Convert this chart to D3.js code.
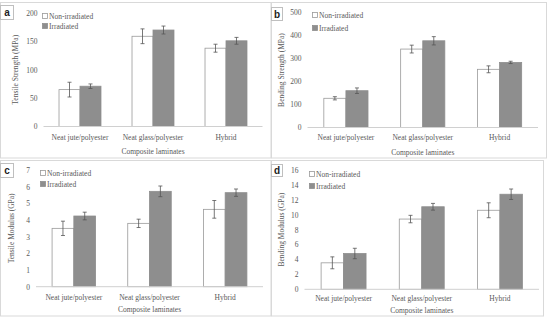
<!DOCTYPE html>
<html>
<head>
<meta charset="utf-8">
<script src="https://cdn.jsdelivr.net/npm/d3@7"></script>
<style>
  body { margin: 0; background: #fff; }
  svg text { font-family: "Liberation Serif", "Times New Roman", serif; fill: #595959; }
</style>
</head>
<body>
<div id="chart-area"></div>
<script>
// Shared categories and series
const categories = ["Neat jute/polyester", "Neat glass/polyester", "Hybrid"];
const seriesNames = ["Non-irradiated", "Irradiated"];

// Panel a - tensile strength (MPa)
const tsNonIrr = [65, 159, 138];
const tsNonIrrErr = [13, 13, 7];
const tsIrr = [71, 170, 151];
const tsIrrErr = [4, 7, 6];
const tsTicks = [0, 50, 100, 150, 200];

// Panel b - bending strength (MPa)
const bsNonIrr = [127, 341, 253];
const bsNonIrrErr = [7, 17, 15];
const bsIrr = [160, 377, 283];
const bsIrrErr = [12, 18, 5];
const bsTicks = [0, 100, 200, 300, 400, 500];

// Panel c - tensile modulus (GPa)
const tmNonIrr = [3.5, 3.8, 4.64];
const tmNonIrrErr = [0.43, 0.25, 0.53];
const tmIrr = [4.24, 5.72, 5.64];
const tmIrrErr = [0.23, 0.32, 0.22];
const tmTicks = [0, 1, 2, 3, 4, 5, 6, 7];

// Panel d - bending modulus (GPa)
const bmNonIrr = [3.55, 9.42, 10.6];
const bmNonIrrErr = [0.8, 0.5, 1.0];
const bmIrr = [4.8, 11.07, 12.75];
const bmIrrErr = [0.7, 0.45, 0.7];
const bmTicks = [0, 2, 4, 6, 8, 10, 12, 14, 16];

const width = 550;
const height = 323;
const fillColors = ["#ffffff", "#8e8e8e"];
const strokeColors = ["#9a9a9a", "#8e8e8e"];

const svg = d3.select("#chart-area")
    .append("svg")
    .attr("width", width)
    .attr("height", height);

// panel layouts (frame, plot area, label positions)
const panels = [
    { letter: "a", frame: [0.5, 2.5, 270.5, 155.5], box: [0.5, 5.5, 13, 14],
      x: [43.5, 262.5], y: [126.5, 13], max: 200, ticks: tsTicks,
      vals: [tsNonIrr, tsIrr], errs: [tsNonIrrErr, tsIrrErr],
      title: "Tensile Strength (MPa)", titleX: 15, catY: 137, xTitleY: 151,
      legX: 45, legY: [16, 26] },
    { letter: "b", frame: [271.5, 2.5, 275, 155.5], box: [271.5, 7.5, 11, 13],
      x: [307.5, 538], y: [127.5, 12.5], max: 500, ticks: bsTicks,
      vals: [bsNonIrr, bsIrr], errs: [bsNonIrrErr, bsIrrErr],
      title: "Bending Strength (MPa)", titleX: 281, catY: 137, xTitleY: 152,
      legX: 315, legY: [15, 28] },
    { letter: "c", frame: [0.5, 160.5, 270.5, 155.5], box: [0.5, 163.5, 13, 14],
      x: [36, 263], y: [286.7, 170], max: 7, ticks: tmTicks,
      vals: [tmNonIrr, tmIrr], errs: [tmNonIrrErr, tmIrrErr],
      title: "Tensile Modulus (GPa)", titleX: 11, catY: 297, xTitleY: 309,
      legX: 43, legY: [173, 184] },
    { letter: "d", frame: [271.5, 160.5, 272, 155.5], box: [271.5, 164.5, 11, 12],
      x: [304.5, 539], y: [289.3, 170], max: 16, ticks: bmTicks,
      vals: [bmNonIrr, bmIrr], errs: [bmNonIrrErr, bmIrrErr],
      title: "Bending Modulus (GPa)", titleX: 281, catY: 298, xTitleY: 310,
      legX: 312, legY: [174, 186] }
];

panels.forEach(drawPanel);

function drawPanel(p) {
    const g = svg.append("g");

    // outer frame
    g.append("rect")
        .attr("x", p.frame[0]).attr("y", p.frame[1])
        .attr("width", p.frame[2]).attr("height", p.frame[3])
        .attr("fill", "none").attr("stroke", "#d9d9d9");

    // letter box
    g.append("rect")
        .attr("x", p.box[0]).attr("y", p.box[1])
        .attr("width", p.box[2]).attr("height", p.box[3])
        .attr("fill", "#fff").attr("stroke", "#bfbfbf");
    g.append("text")
        .attr("x", p.box[0] + p.box[2] / 2)
        .attr("y", p.box[1] + p.box[3] / 2)
        .attr("dy", ".36em")
        .attr("text-anchor", "middle")
        .style("font-family", "'Liberation Sans', Arial, sans-serif")
        .style("font-size", "10px")
        .style("font-weight", "bold")
        .style("fill", "#222")
        .text(p.letter);

    const x0 = d3.scaleBand().domain(categories).range(p.x);
    const bw = x0.bandwidth();
    const gap = bw * 0.425;
    const x1 = d3.scaleBand().domain(seriesNames).range([gap / 2, bw - gap / 2]);
    const y = d3.scaleLinear().domain([0, p.max]).range(p.y);

    // y axis ticks (no line)
    const yAxis = g.append("g")
        .attr("transform", `translate(${p.x[0]},0)`)
        .call(d3.axisLeft(y).tickValues(p.ticks).tickFormat(d3.format("d")).tickSize(0).tickPadding(6));
    yAxis.select(".domain").remove();
    yAxis.selectAll("text")
        .style("font-family", "'Liberation Serif', serif")
        .style("font-size", "7.5px")
        .style("fill", "#595959");

    // bars
    seriesNames.forEach((s, si) => {
        g.selectAll(".bar-" + si)
            .data(categories)
            .enter()
            .append("rect")
            .attr("x", d => x0(d) + x1(s))
            .attr("y", (d, i) => y(p.vals[si][i]))
            .attr("width", x1.bandwidth())
            .attr("height", (d, i) => y(0) - y(p.vals[si][i]))
            .attr("fill", fillColors[si])
            .attr("stroke", strokeColors[si])
            .attr("stroke-width", 0.8);
    });

    // baseline
    g.append("line")
        .attr("x1", p.x[0]).attr("x2", p.x[1])
        .attr("y1", y(0)).attr("y2", y(0))
        .attr("stroke", "#d0d0d0").attr("stroke-width", 1);

    // error bars
    seriesNames.forEach((s, si) => {
        categories.forEach((c, i) => {
            const cx = x0(c) + x1(s) + x1.bandwidth() / 2;
            const v = p.vals[si][i], e = p.errs[si][i];
            const eg = g.append("g").attr("stroke", "#555").attr("stroke-width", 0.8);
            eg.append("line").attr("x1", cx).attr("x2", cx).attr("y1", y(v + e)).attr("y2", y(v - e));
            eg.append("line").attr("x1", cx - 2).attr("x2", cx + 2).attr("y1", y(v + e)).attr("y2", y(v + e));
            eg.append("line").attr("x1", cx - 2).attr("x2", cx + 2).attr("y1", y(v - e)).attr("y2", y(v - e));
        });
    });

    // category labels
    g.selectAll(".cat")
        .data(categories)
        .enter()
        .append("text")
        .attr("x", d => x0(d) + bw / 2)
        .attr("y", p.catY)
        .attr("dy", ".35em")
        .attr("text-anchor", "middle")
        .style("font-size", "7.5px")
        .text(d => d);

    // x axis title
    g.append("text")
        .attr("x", (p.x[0] + p.x[1]) / 2)
        .attr("y", p.xTitleY)
        .attr("dy", ".35em")
        .attr("text-anchor", "middle")
        .style("font-size", "7.5px")
        .text("Composite laminates");

    // y axis title
    g.append("text")
        .attr("transform", `translate(${p.titleX},${(p.y[0] + p.y[1]) / 2}) rotate(-90)`)
        .attr("dy", ".35em")
        .attr("text-anchor", "middle")
        .style("font-size", "7.5px")
        .text(p.title);

    // legend
    seriesNames.forEach((s, si) => {
        g.append("rect")
            .attr("x", p.legX - 2.5).attr("y", p.legY[si] - 2.5)
            .attr("width", 5).attr("height", 5)
            .attr("fill", fillColors[si])
            .attr("stroke", strokeColors[si])
            .attr("stroke-width", 0.8);
        g.append("text")
            .attr("x", p.legX + 4)
            .attr("y", p.legY[si])
            .attr("dy", ".35em")
            .style("font-size", "7.5px")
            .text(s);
    });
}
</script>
</body>
</html>
